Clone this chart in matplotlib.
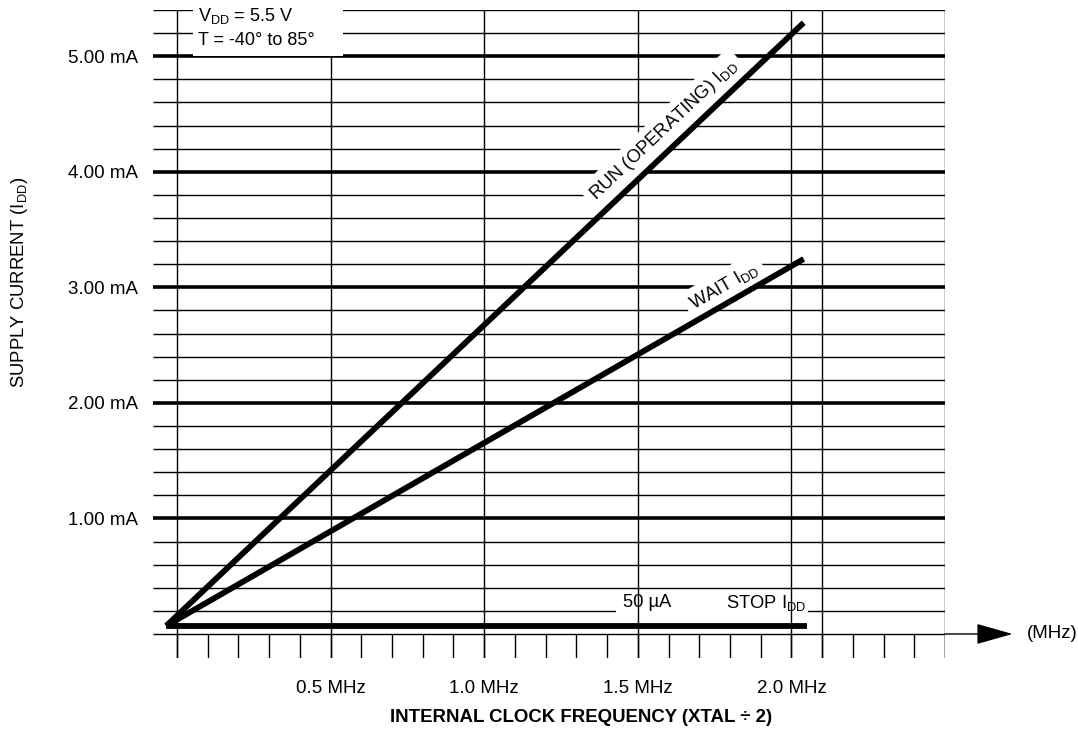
import numpy as np
import matplotlib
matplotlib.use("Agg")
import matplotlib.pyplot as plt
from matplotlib.patches import Rectangle

plt.rcParams['font.family'] = ['Liberation Sans', 'DejaVu Sans']
plt.rcParams['mathtext.fontset'] = 'custom'
plt.rcParams['mathtext.rm'] = 'Liberation Sans'
plt.rcParams['mathtext.it'] = 'Liberation Sans:italic'
plt.rcParams['mathtext.bf'] = 'Liberation Sans:bold'

# donnees (MHz, mA)
run_x = [-0.035, 2.04]
run_y = [0.07, 5.29]
wait_x = [-0.035, 2.04]
wait_y = [0.07, 3.245]
stop_x = [-0.035, 2.05]
stop_y = [0.07, 0.07]

y_ticks = [1.0, 2.0, 3.0, 4.0, 5.0]
y_labels = ['1.00 mA', '2.00 mA', '3.00 mA', '4.00 mA', '5.00 mA']
x_ticks = [0.5, 1.0, 1.5, 2.0]
x_labels = ['0.5 MHz', '1.0 MHz', '1.5 MHz', '2.0 MHz']
x_full_lines = [0.0, 0.5, 1.0, 1.5, 2.0, 2.1, 2.5]

fig = plt.figure(figsize=(10.78, 7.36), dpi=100)
ax = fig.add_axes([153/1078, 1 - 658/736, (945-153)/1078, (658-10)/736])
ax.set_xlim(-0.078, 2.5)
ax.set_ylim(-0.208, 5.4)
for s in ax.spines.values():
    s.set_visible(False)

# grille horizontale
y_minor = np.round(np.arange(0, 5.41, 0.2), 2)
y_minor = [y for y in y_minor if y not in y_ticks]
ax.hlines(y_minor, -0.078, 2.5, color='black', lw=1.0, zorder=1)
ax.hlines(y_ticks, -0.078, 2.5, color='black', lw=2.6, zorder=1)

# trou dans la ligne 0.2 mA pour le texte du STOP
ax.add_patch(Rectangle((1.43, 0.13), 0.625, 0.2, facecolor='white', edgecolor='none', zorder=1.5))

# grille verticale + petites graduations sous l'axe
ax.vlines(x_full_lines, -0.208, 5.4, color='black', lw=1.0, zorder=2)
x_small = np.round(np.arange(0, 2.51, 0.1), 2)
ax.vlines(x_small, -0.208, 0, color='black', lw=1.0, zorder=2)

# courbes
ax.plot(run_x, run_y, color='black', lw=4.2, solid_capstyle='butt', zorder=4)
ax.plot(wait_x, wait_y, color='black', lw=4.2, solid_capstyle='butt', zorder=4)
ax.plot(stop_x, stop_y, color='black', lw=4.2, solid_capstyle='butt', zorder=4)

ax.set_yticks(y_ticks)
ax.set_yticklabels(y_labels, fontsize=13.5)
ax.set_xticks(x_ticks)
ax.set_xticklabels(x_labels, fontsize=13.5)
ax.tick_params(axis='y', length=0, pad=11)
ax.tick_params(axis='x', length=0, pad=16)

# fleche de l'axe x
ax.annotate('', xy=(2.72, 0), xytext=(2.5, 0),
            arrowprops=dict(arrowstyle='-|>,head_length=2.3,head_width=0.65', mutation_scale=10,
                            lw=1, color='black', shrinkA=0, shrinkB=0),
            annotation_clip=False)
ax.text(2.765, 0, '(MHz)', fontsize=13.5, ha='left', va='center', clip_on=False)

# etiquettes des courbes
box = dict(facecolor='white', edgecolor='none', pad=4)
ax.text(1.585, 4.36, r'RUN (OPERATING) I$_{\rm DD}$', fontsize=13.2, rotation=43.4,
        ha='center', va='center', rotation_mode='anchor', bbox=box, zorder=3)
ax.text(1.782, 3.01, r'WAIT I$_{\rm DD}$', fontsize=13.2, rotation=29.9,
        ha='center', va='center', rotation_mode='anchor', bbox=box, zorder=3)
ax.text(1.531, 0.27, '50 µA', fontsize=13.2, ha='center', va='center', zorder=3)
ax.text(1.919, 0.27, r'STOP I$_{\rm DD}$', fontsize=13.2, ha='center', va='center', zorder=3)

# cadre des conditions
ax.add_patch(Rectangle((0.052, 5.0), 0.489, 0.6, facecolor='white', edgecolor='none',
                       zorder=2.5, clip_on=False))
ax.text(0.07, 5.345, r'V$_{\rm DD}$ = 5.5 V', fontsize=13, ha='left', va='center', zorder=3, clip_on=False)
ax.text(0.07, 5.14, 'T = -40° to 85°', fontsize=13, ha='left', va='center', zorder=3, clip_on=False)

fig.text(20/1078, 1 - 282/736, r'SUPPLY CURRENT (I$_{\rm DD}$)', fontsize=13.3, rotation=90,
         ha='center', va='center')
fig.text(581/1078, 1 - 718/736, 'INTERNAL CLOCK FREQUENCY (XTAL ÷ 2)', fontsize=13.4,
         fontweight='bold', ha='center', va='center')

fig.savefig('out.png', dpi=100)
